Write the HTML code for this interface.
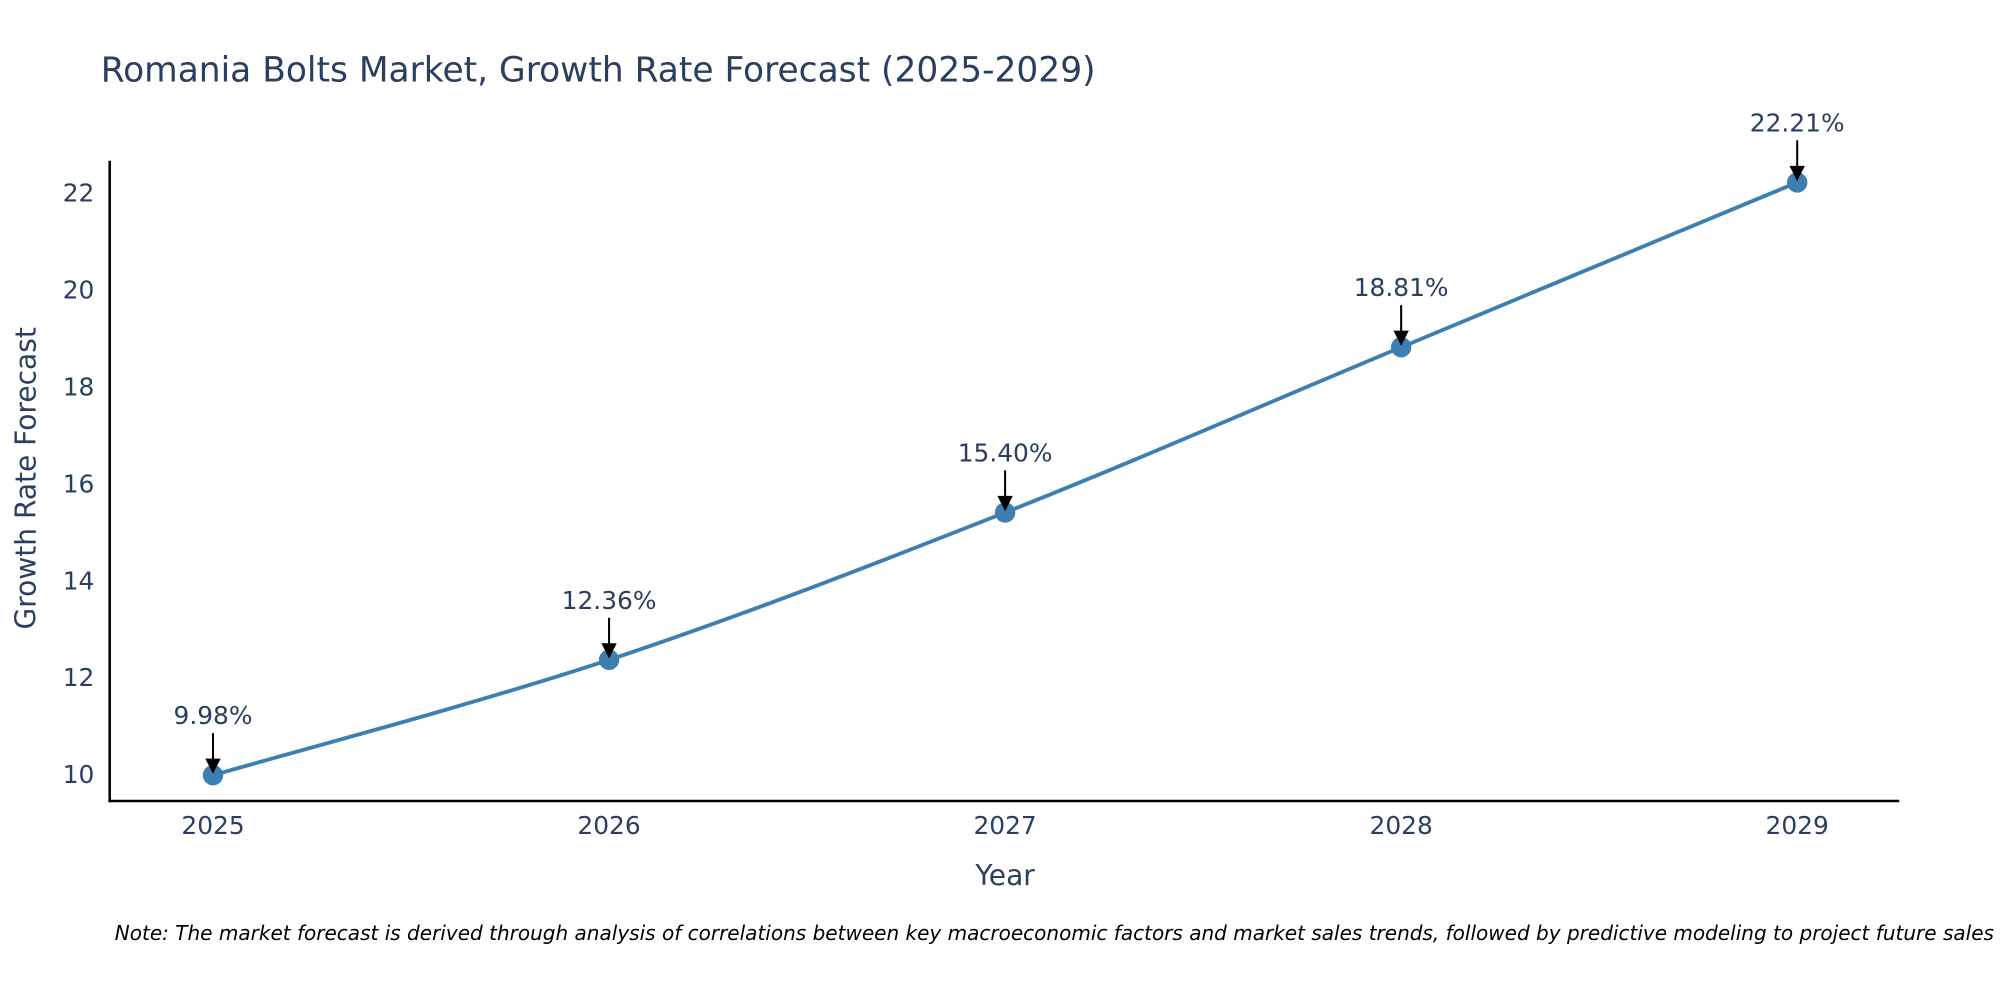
<!DOCTYPE html>
<html><head><meta charset="utf-8"><style>
html,body{margin:0;padding:0;background:#fff;width:2000px;height:1000px;overflow:hidden}
svg{display:block;font-family:"DejaVu Sans","Liberation Sans",sans-serif}
</style></head><body>
<svg id="chart" width="2000" height="1000" viewBox="0 0 1568 784" xmlns="http://www.w3.org/2000/svg">
<text x="79" y="64" font-size="27" fill="#2a3f5f">Romania Bolts Market, Growth Rate Forecast (2025-2029)</text>
<g id="yticks"></g>
<g id="xticks"></g>
<line x1="86" y1="126" x2="86" y2="629" stroke="#000" stroke-width="2"/>
<line x1="85" y1="628" x2="1489" y2="628" stroke="#000" stroke-width="2"/>
<text transform="translate(28,375) rotate(-90)" text-anchor="middle" font-size="22" fill="#2a3f5f">Growth Rate Forecast</text>
<text x="788" y="694" text-anchor="middle" font-size="22" fill="#2a3f5f">Year</text>
<g id="series"></g>
<g id="annots"></g>
<text x="90" y="737" font-size="15.7" font-style="italic" fill="#000">Note: The market forecast is derived through analysis of correlations between key macroeconomic factors and market sales trends, followed by predictive modeling to project future sales</text>
</svg>
<script>
const years = [2025, 2026, 2027, 2028, 2029];
const values = [9.98, 12.36, 15.40, 18.81, 22.21];
const labels = ["9.98%", "12.36%", "15.40%", "18.81%", "22.21%"];
const yTicks = [10, 12, 14, 16, 18, 20, 22];

const NS = "http://www.w3.org/2000/svg";
const xs = v => 167 + (v - 2025) * 310.5;
const ys = v => 607 - (v - 10) * 38;
function mk(tag, attrs, parent) {
  const e = document.createElementNS(NS, tag);
  for (const k in attrs) e.setAttribute(k, attrs[k]);
  parent.appendChild(e);
  return e;
}
const yg = document.getElementById('yticks');
yTicks.forEach(t => {
  const el = mk('text', {x: 74, y: ys(t) + 7, 'text-anchor': 'end', 'font-size': 19.5, fill: '#2a3f5f'}, yg);
  
  
  el.textContent = t;
});
const xg = document.getElementById('xticks');
years.forEach(y => {
  const el = mk('text', {x: xs(y), y: 654, 'text-anchor': 'middle', 'font-size': 19.5, fill: '#2a3f5f'}, xg);
  
  
  el.textContent = y;
});
const pts = years.map((y, i) => [xs(y), ys(values[i])]);
let d = `M${pts[0][0]},${pts[0][1]}`;
for (let i = 0; i < pts.length - 1; i++) {
  const p0 = pts[i - 1] || pts[i], p1 = pts[i], p2 = pts[i + 1], p3 = pts[i + 2] || p2;
  const s = 0.5 / 3;
  const c1 = [p1[0] + (p2[0] - p0[0]) * s, p1[1] + (p2[1] - p0[1]) * s];
  const c2 = [p2[0] - (p3[0] - p1[0]) * s, p2[1] - (p3[1] - p1[1]) * s];
  d += ` C${c1[0]},${c1[1]} ${c2[0]},${c2[1]} ${p2[0]},${p2[1]}`;
}
const sg = document.getElementById('series');
const line = mk('path', {d: d, fill: 'none', stroke: '#3d7fb0', 'stroke-width': 3}, sg);


const ag = document.getElementById('annots');
pts.forEach((p, i) => {
  const c = mk('circle', {cx: p[0], cy: p[1], r: 8, fill: '#3d7fb0'}, sg);
  
  
  const a = mk('line', {x1: p[0], y1: p[1] - 33, x2: p[0], y2: p[1] - 10, stroke: '#000', 'stroke-width': 1.6}, ag);
  
  
  const h = mk('polygon', {points: `${p[0]-6},${p[1]-13} ${p[0]+6},${p[1]-13} ${p[0]},${p[1]-1}`, fill: '#000'}, ag);
  
  
  const t = mk('text', {x: p[0], y: p[1] - 40, 'text-anchor': 'middle', 'font-size': 19.5, fill: '#2a3f5f'}, ag);
  
  
  t.textContent = labels[i];
});
</script>
</body></html>
